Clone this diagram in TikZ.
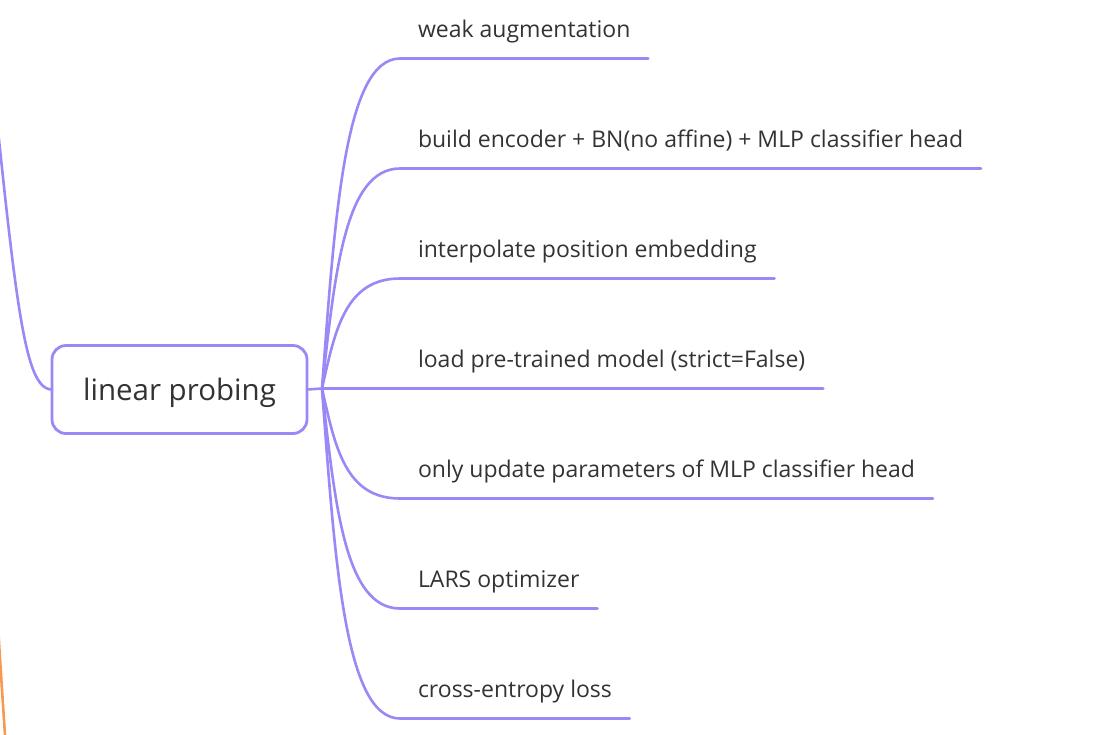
\documentclass[tikz,border=0pt]{standalone}
\usepackage{fontspec}
\setmainfont{Open Sans}
\usepackage{tikz}
\usetikzlibrary{positioning}
\definecolor{mmpurple}{RGB}{155,135,245}
\definecolor{mmorange}{RGB}{250,152,80}
\definecolor{mmtext}{RGB}{51,51,51}

\begin{document}
\begin{tikzpicture}[
  x=1pt, y=-1pt,
  root/.style={rectangle, draw=mmpurple, line width=2.8pt, rounded corners=14pt,
               fill=white, minimum width=255pt, minimum height=88pt, outer sep=0pt,
               text height=26pt, text depth=4pt,
               text=mmtext, font=\fontsize{29.5}{34}\selectfont},
  leaf/.style={anchor=south west, inner xsep=18pt, inner ysep=15pt, outer sep=0pt,
               text depth=6pt, text=mmtext, font=\fontsize{23}{28}\selectfont},
  branch/.style={draw=mmpurple, line width=2.6pt, line cap=round},
]
\useasboundingbox (0,0) rectangle (1097,734);
\clip (0,0) rectangle (1097,734);

\node[root] (probe) at (179.5,389.5) {linear probing};
\coordinate (hub) at (322,388.5);

\node[leaf] (aug) at (400,58.5) {weak augmentation};
\node[leaf] (enc) at (400,168.5) {build encoder + BN(no affine) + MLP classifier head};
\node[leaf] (pos) at (400,278.5) {interpolate position embedding};
\node[leaf] (load) at (400,388.5) {load pre-trained model (strict=False)};
\node[leaf] (upd) at (400,498.5) {only update parameters of MLP classifier head};
\node[leaf] (lars) at (400,608.5) {LARS optimizer};
\node[leaf] (loss) at (400,718.5) {cross-entropy loss};

% parent and neighbour edges, cut by the page
\coordinate (parent) at (-42,-250);
\coordinate (otop) at (-4,590);
\coordinate (obot) at (8,780);

\draw[branch] (parent) .. controls +(55,500) and +(-36,0) .. (probe.west);
\draw[draw=mmorange, line width=2.6pt] (otop) .. controls +(4,70) .. (obot);

\draw[branch] (probe.east) -- (hub);
\draw[branch] (hub) .. controls +(13,-175) and +(-55,0) .. (aug.south west) -- (aug.south east);
\draw[branch] (hub) .. controls +(13,-117) and +(-55,0) .. (enc.south west) -- (enc.south east);
\draw[branch] (hub) .. controls +(13,-58) and +(-55,0) .. (pos.south west) -- (pos.south east);
\draw[branch] (hub) -- (load.south west) -- (load.south east);
\draw[branch] (hub) .. controls +(13,58) and +(-55,0) .. (upd.south west) -- (upd.south east);
\draw[branch] (hub) .. controls +(13,117) and +(-55,0) .. (lars.south west) -- (lars.south east);
\draw[branch] (hub) .. controls +(13,175) and +(-55,0) .. (loss.south west) -- (loss.south east);
\end{tikzpicture}
\end{document}
